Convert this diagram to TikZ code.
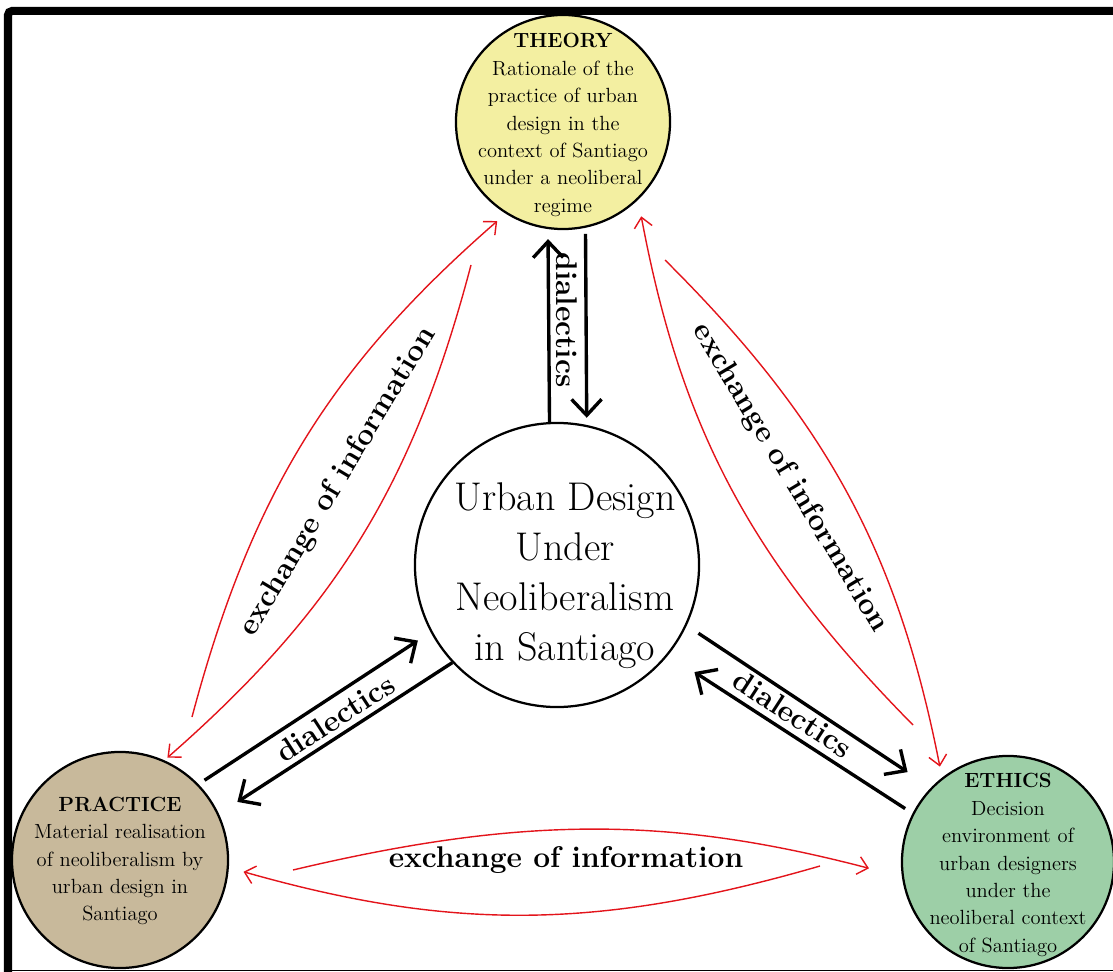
\documentclass[tikz,border=0pt]{standalone}
\usetikzlibrary{arrows.meta}

\definecolor{theoryfill}{HTML}{F3EFA1}
\definecolor{practicefill}{HTML}{C8B99B}
\definecolor{ethicsfill}{HTML}{9DCFA7}
\definecolor{infored}{HTML}{E3141B}

\tikzstyle{pole}=[circle,draw,line width=1.6pt,minimum size=5.35cm,inner sep=0pt]
\tikzstyle{poletext}=[align=center,inner sep=0pt,font=\fontsize{14.6}{19.5}\selectfont]
\tikzstyle{coretext}=[align=center,inner sep=0pt,font=\fontsize{28.5}{35.5}\selectfont]
\tikzstyle{dia} = [draw,line width=2.4pt,-{Straight Barb[length=0.4cm,width=0.75cm]}]
\tikzstyle{info} = [draw,infored,line width=1pt,-{Straight Barb[length=0.25cm,width=0.45cm]}]
\tikzstyle{lbl}=[font=\fontsize{21.3}{25}\selectfont\bfseries]

\begin{document}
\begin{tikzpicture}[x=0.025cm,y=-0.025cm]
	\useasboundingbox (0,0) rectangle (1113,972);
	% the three poles and the core
	\node[pole,fill=theoryfill] (T) at (563,122) {};
	\node[pole,fill=practicefill,minimum size=5.4cm] (P) at (120,860) {};
	\node[pole,fill=ethicsfill,minimum size=5.3cm] (E) at (1008,862) {};
	\node[pole,minimum size=7.1cm] (M) at (557,565) {};
	\node[poletext] (Tt) at (563,125) {\textbf{THEORY}\\Rationale of the\\practice of urban\\design in the\\context of Santiago\\under a neoliberal\\regime};
	\node[poletext] (Pt) at (120,861) {\textbf{PRACTICE}\\Material realisation\\of neoliberalism by\\urban design in\\Santiago};
	\node[poletext] (Et) at (1008,865) {\textbf{ETHICS}\\Decision\\environment of\\urban designers\\under the\\neoliberal context\\of Santiago};
	\node[coretext] (Mt) at (565,576) {Urban Design\\Under\\Neoliberalism\\in Santiago};
	% dialectics between core and poles
	\draw[dia,shorten >=0.25cm] (M.93) -- (T.262);
	\draw[dia,shorten <=0.15cm,shorten >=0.18cm] (T.282) -- (M.78);
	\draw[dia,shorten <=0.18cm,shorten >=0.38cm] (P.44) -- (M.208);
	\draw[dia,shorten >=0.55cm] (M.223) -- (P.25);
	\draw[dia,shorten <=0.35cm,shorten >=0.7cm] (M.335) -- (E.136);
	\draw[dia,shorten <=0.22cm,shorten >=0.78cm] (E.153) -- (M.321);
	\node[lbl,rotate=-90] (d1) at (567,320) {dialectics};
	\node[lbl,rotate=33] (d2) at (335,718) {dialectics};
	\node[lbl,rotate=-33] (d3) at (793,714) {dialectics};
	% exchange of information between the poles
	\coordinate (la) at (192,717);
	\coordinate (lb) at (471,265);
	\coordinate (ra) at (913,725);
	\coordinate (rb) at (665,260);
	\coordinate (ba) at (293,870);
	\coordinate (bb) at (820,866);
	\foreach \src/\dst/\gap/\bend in {la/T.238/0.28cm/17, lb/P.66/0.1cm/17, ra/T.314/0.42cm/17, rb/E.128/0.28cm/17, ba/E.188/0.85cm/14, bb/P.356/0.38cm/16}
		\draw[info,shorten >=\gap] (\src) to[bend left=\bend] (\dst);
	\node[lbl,rotate=59] (x1) at (338,482) {exchange of information};
	\node[lbl,rotate=-59] (x2) at (790,478) {exchange of information};
	\node[lbl] (x3) at (566,860) {exchange of information};
	% frame
	\draw[line width=0.2cm,rounded corners=0.1cm] (8,972) -- (8,11) -- (1113,11);
	\draw[line width=0.7pt] (8,970) -- (1113,970);
\end{tikzpicture}
\end{document}
